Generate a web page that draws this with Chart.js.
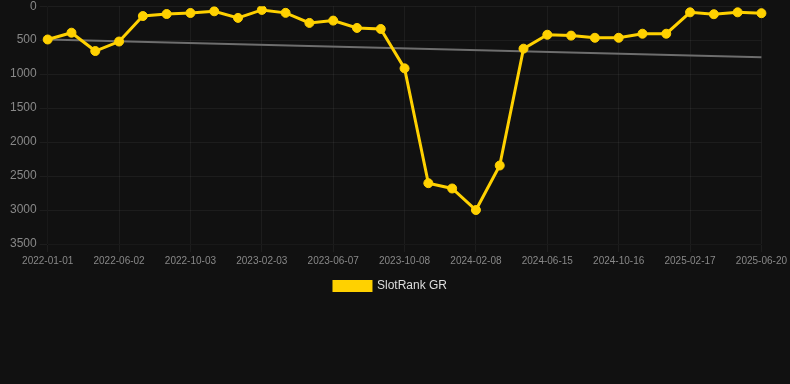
<!DOCTYPE html>
<html>
<head>
<meta charset="utf-8">
<script src="https://cdn.jsdelivr.net/npm/chart.js@4"></script>
<style>
  html, body { margin: 0; padding: 0; background: #111111; overflow: hidden; }
  #wrap { width: 790px; height: 306px; position: relative; top: -4px; }
</style>
</head>
<body>
<div id="wrap"><canvas id="myChart"></canvas></div>
<script>
// dates of each rank reading (only every 3rd is shown on the axis)
const dates = [
    '2022-01-01', '2022-02-20', '2022-04-11', '2022-06-02', '2022-07-13', '2022-08-23',
    '2022-10-03', '2022-11-13', '2022-12-24', '2023-02-03', '2023-03-16', '2023-04-27',
    '2023-06-07', '2023-07-18', '2023-08-28', '2023-10-08', '2023-11-18', '2023-12-29',
    '2024-02-08', '2024-03-20', '2024-05-02', '2024-06-15', '2024-07-26', '2024-09-05',
    '2024-10-16', '2024-11-26', '2025-01-06', '2025-02-17', '2025-03-30', '2025-05-10',
    '2025-06-20'
];

const rankGR = [
    490, 390, 660, 520, 145, 115, 100, 75, 172, 55, 98,
    246, 212, 320, 335, 915, 2605, 2683, 3000, 2345, 625,
    420, 433, 465, 465, 405, 405, 90, 118, 90, 103
];

// straight trend line, start and end value
const trendStart = 490;
const trendEnd = 753;
const trend = dates.map((d, i) => (i === 0 ? trendStart : (i === dates.length - 1 ? trendEnd : null)));

const yTicks = [0, 500, 1000, 1500, 2000, 2500, 3000, 3500];

const gridColor = 'rgba(255,255,255,0.05)';

const ctx = document.getElementById('myChart').getContext('2d');
new Chart(ctx, {
    type: 'line',
    data: {
        labels: dates,
        datasets: [
            {
                label: 'SlotRank GR',
                data: rankGR,
                borderColor: '#FFD100',
                backgroundColor: '#FFD100',
                borderWidth: 3,
                pointRadius: 4.5,
                pointBorderWidth: 1,
                pointHoverRadius: 6,
                tension: 0,
                fill: false
            },
            {
                label: 'trend',
                data: trend,
                borderColor: '#6e6e6e',
                borderWidth: 2,
                pointRadius: 0,
                spanGaps: true,
                fill: false
            }
        ]
    },
    options: {
        responsive: true,
        maintainAspectRatio: false,
        animation: false,
        layout: { padding: { left: 7, right: 16, top: 0 } },
        plugins: {
            legend: {
                display: true,
                position: 'bottom',
                labels: {
                    color: '#dddddd',
                    font: { size: 12, family: 'Liberation Sans, Arial, sans-serif' },
                    boxWidth: 37,
                    boxHeight: 9,
                    padding: 10,
                    filter: item => item.text !== 'trend'
                }
            },
            tooltip: { enabled: false }
        },
        scales: {
            x: {
                offset: false,
                grid: {
                    color: c => (c.index % 3 === 0 ? gridColor : 'transparent')
                },
                ticks: {
                    color: '#888888',
                    font: { size: 10, family: 'Liberation Sans, Arial, sans-serif' },
                    autoSkip: false,
                    maxRotation: 0,
                    callback: function(value, index) {
                        return index % 3 === 0 ? this.getLabelForValue(value) : '';
                    }
                }
            },
            y: {
                reverse: true,
                min: yTicks[0],
                max: yTicks[yTicks.length - 1],
                grid: { color: gridColor },
                ticks: {
                    stepSize: 500,
                    color: '#888888',
                    font: { size: 12, family: 'Liberation Sans, Arial, sans-serif' },
                    callback: value => String(value)
                }
            }
        }
    }
});
</script>
</body>
</html>
